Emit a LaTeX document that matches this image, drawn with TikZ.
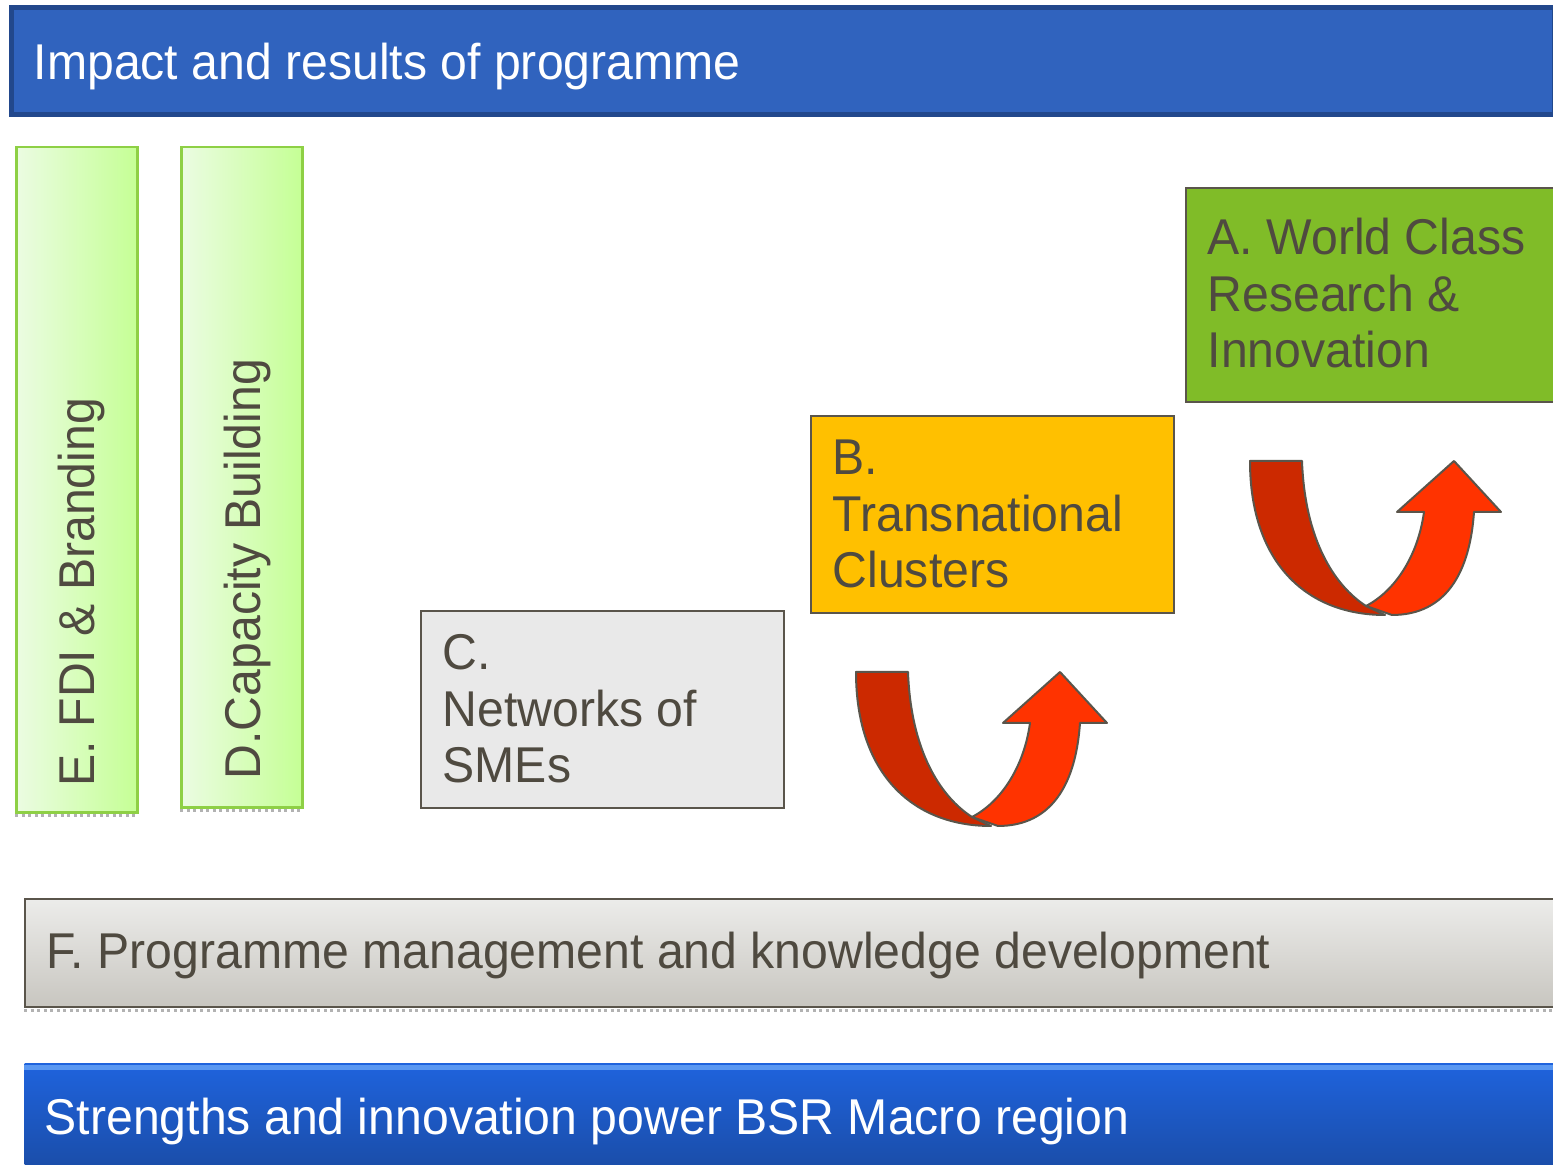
\documentclass[tikz,border=0pt]{standalone}
\usepackage{fontspec}
\setmainfont{Liberation Sans}[FakeStretch=0.958]
\definecolor{txtgrey}{HTML}{4F4A40}
\definecolor{edgegrey}{HTML}{5A554B}
\definecolor{titleblue}{HTML}{3063BE}
\definecolor{titleedge}{HTML}{22488C}
\definecolor{barblue}{HTML}{1F63DD}
\definecolor{barbluedark}{HTML}{1A4CA6}
\definecolor{barshine}{HTML}{5A98F2}
\definecolor{limeedge}{HTML}{8ED045}
\definecolor{limelight}{HTML}{EBFCE2}
\definecolor{limedark}{HTML}{C5FF95}
\definecolor{amber}{HTML}{FFC000}
\definecolor{leaf}{HTML}{80BC28}
\definecolor{smegrey}{HTML}{E9E9E9}
\definecolor{mgmtlight}{HTML}{ECECEA}
\definecolor{mgmtdark}{HTML}{C8C6C0}
\definecolor{arrowdark}{HTML}{CC2900}
\definecolor{arrowlight}{HTML}{FF3300}

\tikzset{
  boxtext/.style={font=\fontsize{14.3}{16.2}\selectfont, text=txtgrey, inner sep=0pt, align=left, anchor=base west},
  box/.style={draw=edgegrey, line width=0.2mm, anchor=north west, inner sep=0pt},
  lime/.style={draw=limeedge, line width=0.25mm, left color=limelight, right color=limedark, anchor=north west, inner sep=0pt},
  shadowline/.style={gray!60, line width=0.3mm, densely dotted},
  uturn/.style={draw=edgegrey, line width=0.2mm, line join=round},
}

\begin{document}
\begin{tikzpicture}[x=0.01cm, y=-0.01cm]
    \useasboundingbox (0,0) rectangle (1553,1165);
    \clip (0,0) rectangle (1553,1165);

    % title bar
    \node[box, draw=titleedge, fill=titleblue, line width=0.5mm, minimum width=15.42cm, minimum height=1.07cm] (impact) at (9,5) {};
    \node[boxtext, text=white] (impacttext) at (33,80) {Impact and results of programme};

    % vertical bars
    \node[lime, minimum width=1.21cm, minimum height=6.65cm] (fdi) at (15,146) {};
    \node[lime, minimum width=1.21cm, minimum height=6.6cm] (capacity) at (180,146) {};
    \draw[shadowline] ([yshift=-0.02cm]fdi.south west) -- ([yshift=-0.02cm]fdi.south east);
    \draw[shadowline] ([yshift=-0.02cm]capacity.south west) -- ([yshift=-0.02cm]capacity.south east);
    \node[boxtext, rotate=90] (fditext) at (94,787) {E. FDI \& Branding};
    \node[boxtext, rotate=90] (capacitytext) at (260,780) {D.Capacity Building};

    % the three steps
    \node[box, fill=smegrey, minimum width=3.63cm, minimum height=1.97cm] (smes) at (420,610) {};
    \node[box, fill=amber, minimum width=3.63cm, minimum height=1.97cm] (clusters) at (810,415) {};
    \node[box, fill=leaf, minimum width=3.8cm, minimum height=2.14cm] (research) at (1185,187) {};
    \node[boxtext] (smestext) at (442,783) {C.\\Networks of\\SMEs};
    \node[boxtext] (clusterstext) at (832,588) {B.\\Transnational\\Clusters};
    \node[boxtext] (researchtext) at (1207,368) {A. World Class\\Research \&\\Innovation};

    % u-turn arrows
    \foreach \ax/\ay in {856/672, 1250/461}
    {
    \begin{scope}[shift={(\ax,\ay)}]
        \filldraw[uturn, fill=arrowdark] (0,0) .. controls (0,100) and (55,154) .. (135,154) -- (116,145) .. controls (85,125) and (55,80) .. (52,0) -- cycle;
        \filldraw[uturn, fill=arrowlight] (116,145) -- (142,154) .. controls (197,154) and (220,110) .. (224,51) -- (251,51) -- (204,0) -- (147,51) -- (174,51) .. controls (168,95) and (145,130) .. (116,145) -- cycle;
    \end{scope}
    }

    % management bar
    \node[box, top color=mgmtlight, bottom color=mgmtdark, minimum width=15.5cm, minimum height=1.08cm] (mgmt) at (24,898) {};
    \draw[shadowline] ([yshift=-0.02cm]mgmt.south west) -- ([yshift=-0.02cm]mgmt.south east);
    \node[boxtext] (mgmttext) at (46,969) {F. Programme management and knowledge development};

    % base bar
    \node[anchor=north west, inner sep=0pt, top color=barblue, bottom color=barbluedark, minimum width=15.5cm, minimum height=1.1cm] (strengths) at (24,1063) {};
    \draw[barshine, line width=0.5mm] ([yshift=-0.05cm]strengths.north west) -- ([yshift=-0.05cm]strengths.north east);
    \node[boxtext, text=white] (strengthstext) at (44,1135) {Strengths and innovation power BSR Macro region};
\end{tikzpicture}
\end{document}
